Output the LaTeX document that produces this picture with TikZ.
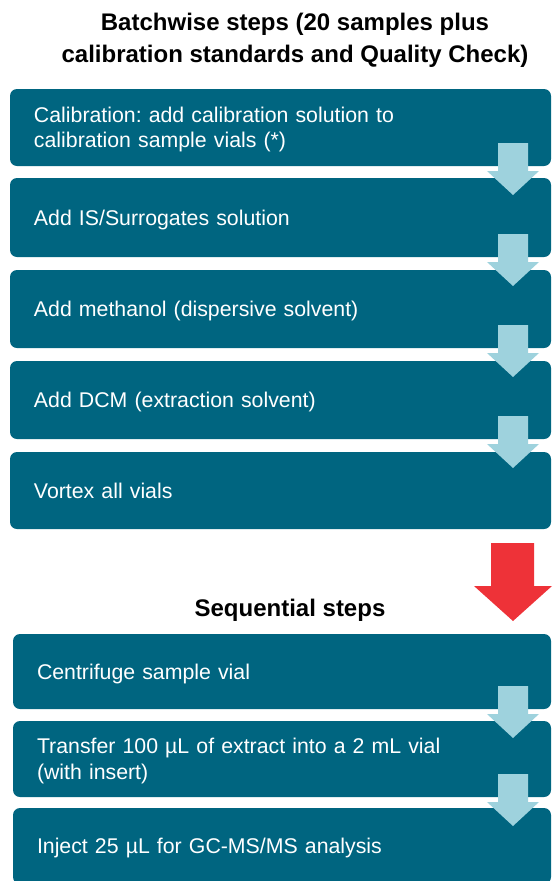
\documentclass[tikz,border=0pt]{standalone}
\usepackage{fontspec}
\setmainfont{Liberation Sans}
\frenchspacing
\usetikzlibrary{calc}
\definecolor{teal}{RGB}{0,101,128}
\definecolor{lightarr}{RGB}{158,210,221}
\definecolor{redarr}{RGB}{238,50,56}
\tikzset{
  stepbox/.style={fill=teal, draw=none, rounded corners=7pt, outer sep=0pt,
    anchor=north west, minimum width=541pt, text width=493pt, inner xsep=24pt,
    align=left, text=white, font=\fontsize{21.3}{25}\selectfont,
    text height=15pt, text depth=0pt},
  twolines/.style={text depth=25pt},
  seqbox/.style={stepbox, minimum width=538pt, text width=490pt},
  titletext/.style={font=\bfseries\fontsize{24}{32}\selectfont, align=center, inner sep=0pt},
  lightarrow/.style={fill=lightarr, draw=none},
  redarrow/.style={fill=redarr, draw=none}
}
\newcommand\stepArrow[1]{%
  \fill[lightarrow] ($(#1.south east)+(-53,-23)$) -- ($(#1.south east)+(-23,-23)$)
    -- ($(#1.south east)+(-23,5)$) -- ($(#1.south east)+(-12,5)$)
    -- ($(#1.south east)+(-38,29)$) -- ($(#1.south east)+(-64,5)$)
    -- ($(#1.south east)+(-53,5)$) -- cycle;}
\begin{document}
\begin{tikzpicture}[x=1pt,y=-1pt]
\useasboundingbox (0,0) rectangle (552,881);
\node[titletext] (title) at (295,40) {Batchwise steps (20 samples plus\\calibration standards and Quality Check)};
\node[stepbox, twolines, minimum height=77pt] (b1) at (10,89) {Calibration: add calibration solution to\\calibration sample vials (*)};
\node[stepbox, minimum height=79pt] (b2) at (10,178) {Add IS/Surrogates solution};
\node[stepbox, minimum height=78pt] (b3) at (10,270) {Add methanol (dispersive solvent)};
\node[stepbox, minimum height=78pt] (b4) at (10,361) {Add DCM (extraction solvent)};
\node[stepbox, minimum height=77pt] (b5) at (10,452) {Vortex all vials};
\node[titletext] (seq) at (290,610) {Sequential steps};
\node[seqbox, minimum height=75pt] (b6) at (13,634) {Centrifuge sample vial};
\node[seqbox, twolines, minimum height=76pt, font=\fontsize{21.3}{26}\selectfont, text depth=26pt] (b7) at (13,721) {Transfer 100 µL of extract into a 2 mL vial\\(with insert)};
\node[seqbox, minimum height=76pt] (b8) at (13,808) {Inject 25 µL for GC-MS/MS analysis};
\stepArrow{b1}
\stepArrow{b2}
\stepArrow{b3}
\stepArrow{b4}
\stepArrow{b6}
\stepArrow{b7}
\fill[redarrow] ($(b5.south east)+(-60,14)$) -- ($(b5.south east)+(-17,14)$)
  -- ($(b5.south east)+(-17,57)$) -- ($(b5.south east)+(1,57)$)
  -- ($(b6.north east)+(-38,-13)$) -- ($(b5.south east)+(-77,57)$)
  -- ($(b5.south east)+(-60,57)$) -- cycle;
\end{tikzpicture}
\end{document}
